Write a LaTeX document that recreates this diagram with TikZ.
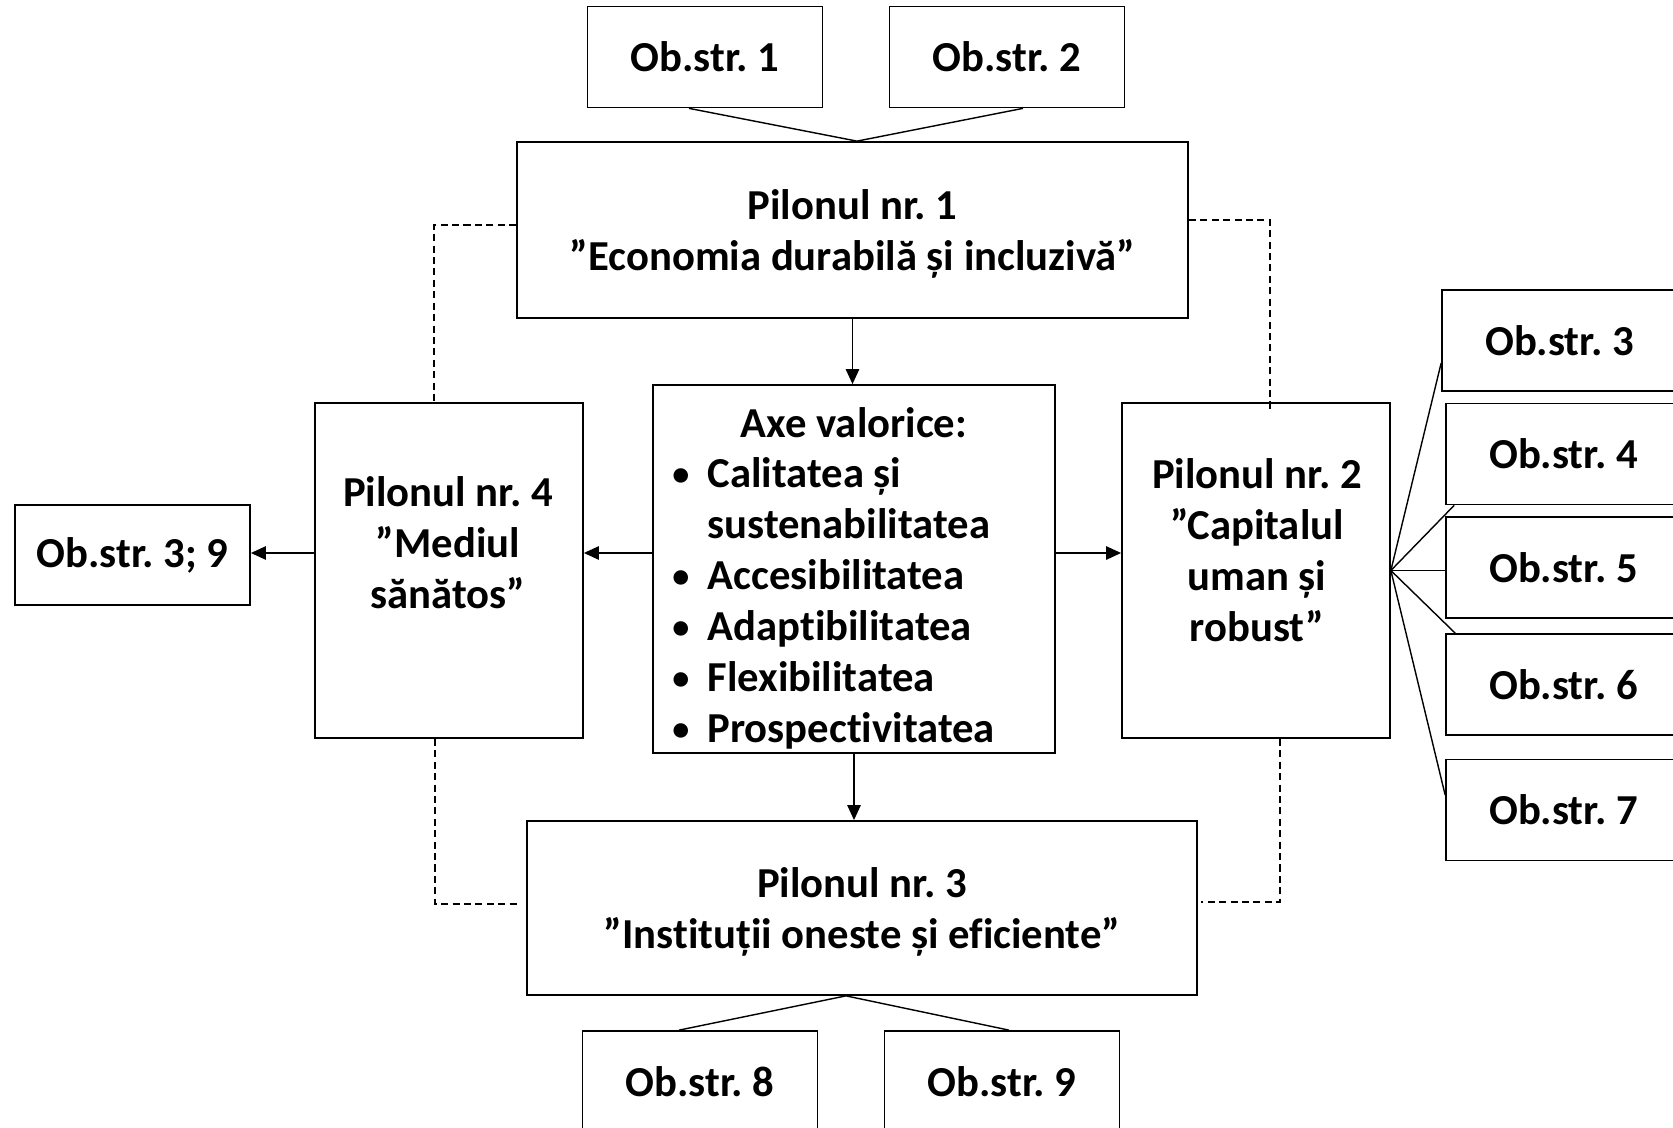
\documentclass[tikz,border=0pt]{standalone}
\usepackage{fontspec}
\setmainfont{Carlito}[Ligatures={TeX,NoCommon}]
\usepackage{tikz}
\usetikzlibrary{calc}
\usetikzlibrary{arrows.meta}

\newcommand{\axebul}{\makebox[20pt][l]{\raisebox{1pt}{\scalebox{0.8}{\textbullet}}}}
\newcommand{\axeskip}{\makebox[20pt]{}}
\frenchspacing

\begin{document}
\begin{tikzpicture}[x=0.02cm,y=-0.02cm,
    every node/.style={font=\fontsize{24.3}{29}\selectfont\bfseries},
    box/.style={draw,line width=1pt,inner sep=0pt},
    obstr/.style={box,minimum width=4.7cm,minimum height=2.02cm},
    link/.style={line width=0.8pt},
    arr/.style={line width=1.1pt,->},
    dash line/.style={line width=0.75pt,dash pattern=on 4pt off 2.5pt},
    >={Triangle[length=8.5pt,width=7.5pt]}]
\path[use as bounding box,fill=white] (0,0) rectangle (1673,1128);
\clip (0,0) rectangle (1673,1128);

% strategic objectives, top
\node[obstr] (ob1) at (705,57) {Ob.str. 1};
\node[obstr] (ob2) at (1007,57) {Ob.str. 2};

% pillars
\node[box,minimum width=13.42cm,minimum height=3.52cm] (pil1) at (852.5,230) {};
\node[align=center] (pil1txt) at (852.5,234) {Pilonul nr. 1\\”Economia durabilă și incluzivă”};
\node[box,minimum width=5.36cm,minimum height=6.7cm] (pil4) at (449,570.5) {};
\node[align=center] (pil4txt) at (448,543) {Pilonul nr. 4\\”Mediul\\sănătos”};
\node[box,minimum width=5.36cm,minimum height=6.7cm] (pil2) at (1256,570.5) {};
\node[align=center] (pil2txt) at (1257,550) {Pilonul nr. 2\\”Capitalul\\uman și\\robust”};
\node[box,minimum width=13.4cm,minimum height=3.48cm] (pil3) at (862,908) {};
\node[align=center] (pil3txt) at (862,912) {Pilonul nr. 3\\”Instituții oneste și eficiente”};

% value axes
\node[box,minimum width=8.04cm,minimum height=7.36cm] (axe) at (854,569) {};
\node (axetitle) at (854,423) {Axe valorice:};
\node[anchor=north west,align=left,inner sep=0pt] (axelist) at (672,457)
    {\axebul Calitatea și\\\axeskip sustenabilitatea\\\axebul Accesibilitatea\\
     \axebul Adaptibilitatea\\\axebul Flexibilitatea\\\axebul Prospectivitatea};

% other objectives
\node[obstr,minimum height=2cm] (ob39) at (132.5,555) {Ob.str. 3; 9};
\node[obstr] (ob3) at (1559.5,340.5) {Ob.str. 3};
\node[obstr] (ob4) at (1563.5,454) {Ob.str. 4};
\node[obstr] (ob5) at (1563.5,567.5) {Ob.str. 5};
\node[obstr] (ob6) at (1563.5,684.5) {Ob.str. 6};
\node[obstr] (ob7) at (1563.5,810) {Ob.str. 7};
\node[obstr] (ob8) at (700,1081.5) {Ob.str. 8};
\node[obstr] (ob9) at (1002,1081.5) {Ob.str. 9};

% links
\coordinate (pil1top) at ($(pil1.north)+(4.5,0)$);
\coordinate (pil3bot) at ($(pil3.south)+(-16,0)$);
\draw[link] ($(ob1.south)+(-16,0)$) -- (pil1top) -- ($(ob2.south)+(16,0)$);
\draw[link] ($(ob8.north)+(-21,0)$) -- (pil3bot) -- ($(ob9.north)+(7,0)$);

\draw[link] (pil2.east) -- ($(ob3.west)+(0,22.5)$);
\draw[link] (pil2.east) -- ($(ob4.south west)+(9,0)$);
\draw[link] (pil2.east) -- (pil2.east -| ob5.west);
\draw[link] (pil2.east) -- ($(ob6.north west)+(10,0)$);
\draw[link] (pil2.east) -- ($(ob7.west)+(0,-15)$);

% arrows
\coordinate (axel) at ($(axe.west)+(0,-16)$);
\coordinate (axer) at ($(axe.east)+(0,-16)$);
\coordinate (pil4l) at ($(pil4.west)+(0,-17.5)$);
\draw[arr] (pil1.south) -- (pil1.south |- axe.north);
\draw[arr] (axe.south) -- (axe.south |- pil3.north);
\draw[arr] (axel) -- (axel -| pil4.east);
\draw[arr] (axer) -- (axer -| pil2.west);
\draw[arr] (pil4l) -- (pil4l -| ob39.east);

% dashed frame
\draw[dash line] ($(pil1.west)+(0,-5)$) -| ($(pil4.north)+(-15,0)$);
\draw[dash line] ($(pil1.east)+(0,-10)$) -| ($(pil2.north)+(14,7)$);
\draw[dash line] ($(pil4.south)+(-14,0)$) |- ($(pil3.west)+(-9,-4)$);
\draw[dash line] ($(pil2.south)+(24,0)$) |- ($(pil3.east)+(3,-6)$);
\end{tikzpicture}
\end{document}
